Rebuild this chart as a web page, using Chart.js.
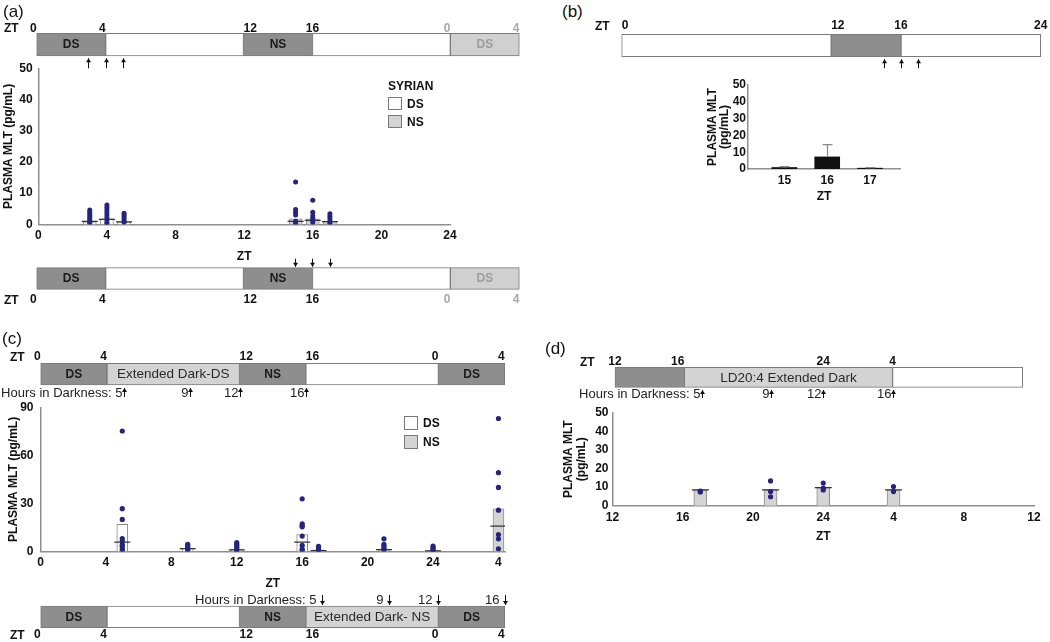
<!DOCTYPE html>
<html>
<head>
<meta charset="utf-8">
<script src="https://cdn.jsdelivr.net/npm/chart.js@4.4.1/dist/chart.umd.min.js"></script>
<style>
body { margin: 0; background: #fff; }
#wrap { position: relative; width: 1050px; height: 642px; overflow: hidden; background: #fff; }
canvas { position: absolute; }
.t { position: absolute; white-space: nowrap; line-height: 1; font-family: "Liberation Sans", Arial, sans-serif; color: #111; }
.box { position: absolute; box-sizing: border-box; border: 1px solid #7a7a7a; }
</style>
</head>
<body>
<div id="wrap"></div>
<script>
// ---------- data ----------
// (a) Syrian hamsters, sampled around DS (ZT3-5) and NS (ZT15-17)
const aXTicks = [0, 4, 8, 12, 16, 20, 24];
const aXTickText = ['0', '4', '8', '12', '16', '20', '24'];
const aYTicks = [0, 10, 20, 30, 40, 50];
const aDsTimes = [3, 4, 5];
const aDsMeans = [0.8, 1.8, 0.8];
const aDsMedians = [1.0, 1.6, 0.8];
const aNsTimes = [15, 16, 17];
const aNsMeans = [1.8, 1.8, 1.0];
const aNsMedians = [1.0, 1.3, 0.9];
const aDotTimes = [3, 4, 5, 15, 16, 17];
const aDotValues = [
  [4.6, 4.0, 3.4, 2.8, 2.2, 1.6, 1.0, 0.4],
  [6.2, 5.4, 4.6, 3.8, 3.0, 2.2, 1.4, 0.6, 0.2],
  [3.6, 3.0, 2.4, 1.8, 1.2, 0.6],
  [13.6, 4.8, 3.9, 3.0, 1.0, 0.4],
  [7.7, 3.9, 2.8, 2.0, 1.3, 0.6],
  [3.4, 2.6, 1.8, 1.0, 0.4]
];

// (b) mean +/- error at ZT15-17
const bXTicks = [15, 16, 17];
const bXTickText = ['15', '16', '17'];
const bYTicks = [0, 10, 20, 30, 40, 50];
const bTimes = [15, 16, 17];
const bMeans = [0.9, 7.2, 0.5];
const bErrTop = [1.4, 14.5, 0.8];

// (c) extended dark, DS and NS groups
const cXTicks = [0, 4, 8, 12, 16, 20, 24, 28];
const cXTickText = ['0', '4', '8', '12', '16', '20', '24', '4'];
const cYTicks = [0, 30, 60, 90];
const cDsTimes = [5, 9, 12, 16];
const cDsMeans = [16.9, 2.0, 1.5, 10.6];
const cDsMedians = [5.8, 1.8, 1.0, 5.8];
const cNsTimes = [17, 21, 24, 28];
const cNsMeans = [1.0, 1.5, 0.5, 26.7];
const cNsMedians = [0.5, 1.2, 0.3, 15.8];
const cDotTimes = [5, 9, 12, 16, 17, 21, 24, 28];
const cDotValues = [
  [75.2, 26.7, 20, 8, 6.5, 4.4, 3.3, 1.7, 0.5],
  [4.5, 3.5, 2.5, 1.5, 0.8],
  [5.5, 4.5, 3.5, 2.5, 1.2, 0.5],
  [32.9, 17.3, 16.2, 15.4, 9.6, 3.8, 1.5, 0.5],
  [3.2, 2.2, 1.2, 0.5],
  [7.9, 4.4, 3.2, 2.0, 1.0],
  [3.3, 2.2, 1.2, 0.5],
  [83, 49.2, 40, 25.8, 10.6, 7.9, 1.7]
];

// (d) LD20:4 extended dark
const dXTicks = [12, 16, 20, 24, 28, 32, 36];
const dXTickText = ['12', '16', '20', '24', '4', '8', '12'];
const dYTicks = [0, 10, 20, 30, 40, 50];
const dNsTimes = [17, 21, 24, 28];
const dNsMeans = [8.5, 8.5, 9.7, 8.5];
const dNsMedians = [8.5, 8.5, 9.7, 8.5];
const dDotTimes = [17, 21, 24, 28];
const dDotValues = [[7.8, 7.4], [13.3, 7.6, 4.8], [12.2, 9.5, 8.5], [10.3, 7.6]];

// light schedule bars
const tlAStarts = [0, 4, 12, 16, 24];
const tlAEnds = [4, 12, 16, 24, 28];
const tlAKinds = ['dark', 'white', 'dark', 'white', 'faded'];
const tlATexts = ['DS', '', 'NS', '', 'DS'];
const tlATicks = [0, 4, 12, 16, 24, 28];
const tlATickText = ['0', '4', '12', '16', '0', '4'];
const aUpArrows = [3, 4, 5];
const aDownArrows = [15, 16, 17];

const tlBStarts = [0, 12, 16];
const tlBEnds = [12, 16, 24];
const tlBKinds = ['white', 'dark', 'white'];
const tlBTicks = [0, 12, 16, 24];
const tlBTickText = ['0', '12', '16', '24'];
const bArrows = [15, 16, 17];

const tlCStarts = [0, 4, 12, 16, 24];
const tlCEnds = [4, 12, 16, 24, 28];
const tlCTopKinds = ['dark', 'light', 'dark', 'white', 'dark'];
const tlCTopTexts = ['DS', 'Extended Dark-DS', 'NS', '', 'DS'];
const tlCBotKinds = ['dark', 'white', 'dark', 'light', 'dark'];
const tlCBotTexts = ['DS', '', 'NS', 'Extended Dark- NS', 'DS'];
const tlCTicks = [0, 4, 12, 16, 24, 28];
const tlCTickText = ['0', '4', '12', '16', '0', '4'];
const cUpArrows = [5, 9, 12, 16];
const cDownArrows = [17, 21, 24, 28];
const darkHours = ['Hours in Darkness: 5', '9', '12', '16'];

const tlDStarts = [12, 16, 28];
const tlDEnds = [16, 28, 35.5];
const tlDKinds = ['dark', 'light', 'white'];
const tlDTexts = ['', 'LD20:4 Extended Dark', ''];
const tlDTicks = [12, 16, 24, 28];
const tlDTickText = ['12', '16', '24', '4'];
const dArrows = [17, 21, 24, 28];

// ---------- drawing ----------
const FONT = '"Liberation Sans", Arial, sans-serif';
Chart.defaults.font.family = FONT;
Chart.defaults.color = '#111';
const NAVY = '#25257c';
const segStyle = {
  dark:  { fill: '#8e8e8e', text: '#1a1a1a', font: 'bold 12px ' + FONT },
  light: { fill: '#d3d3d3', text: '#2a2a2a', font: '13.5px ' + FONT },
  white: { fill: '#ffffff', text: '#1a1a1a', font: 'bold 12px ' + FONT },
  faded: { fill: '#d0d0d0', text: '#9d9d9d', font: 'bold 12px ' + FONT }
};

const wrap = document.getElementById('wrap');
function makeCanvas(b) {
  const c = document.createElement('canvas');
  c.width = b[2]; c.height = b[3];
  c.style.left = b[0] + 'px'; c.style.top = b[1] + 'px';
  c.style.width = b[2] + 'px'; c.style.height = b[3] + 'px';
  wrap.appendChild(c);
  return c;
}
function addText(txt, x, cy, size, bold, color) {
  const d = document.createElement('div');
  d.className = 't';
  d.textContent = txt;
  d.style.left = x + 'px';
  d.style.top = (cy - size / 2) + 'px';
  d.style.fontSize = size + 'px';
  d.style.fontWeight = bold ? 'bold' : 'normal';
  if (color) d.style.color = color;
  wrap.appendChild(d);
}
function addBox(x, y, w, h, fill) {
  const d = document.createElement('div');
  d.className = 'box';
  Object.assign(d.style, { left: x + 'px', top: y + 'px', width: w + 'px', height: h + 'px', background: fill });
  wrap.appendChild(d);
}

// labels, tick numbers and arrows around a schedule bar
function makeMarks(tl) {
  return {
    id: 'marks',
    afterDatasetsDraw(chart) {
      const ctx = chart.ctx, xs = chart.scales.x, a = chart.chartArea;
      const px = v => xs.getPixelForValue(v);
      ctx.save();
      ctx.textBaseline = 'middle';
      tl.starts.forEach((s, i) => {
        const txt = tl.texts[i];
        if (!txt) return;
        const st = segStyle[tl.kinds[i]];
        ctx.font = st.font; ctx.fillStyle = st.text; ctx.textAlign = 'center';
        ctx.fillText(txt, (px(s) + px(tl.ends[i])) / 2, (a.top + a.bottom) / 2 + 0.5);
      });
      ctx.font = 'bold 12px ' + FONT;
      const ty = tl.tickSide === 'top' ? a.top - tl.tickGap : a.bottom + tl.tickGap;
      tl.ticks.forEach((v, i) => {
        ctx.textAlign = tl.tickAlign[i];
        ctx.fillStyle = tl.tickColors ? tl.tickColors[i] : '#111';
        ctx.fillText(tl.tickText[i], px(v), ty);
      });
      ctx.strokeStyle = '#111'; ctx.lineWidth = 1;
      const below = tl.arrowSide === 'below';
      const y1 = below ? a.bottom + tl.arrowGap : a.top - tl.arrowGap - tl.arrowLen;
      const y2 = y1 + tl.arrowLen;
      tl.arrows.forEach((v, i) => {
        const x = Math.round(px(v)) + 0.5;
        ctx.fillStyle = '#111';
        ctx.beginPath(); ctx.moveTo(x, y1); ctx.lineTo(x, y2); ctx.stroke();
        const hy = below ? y1 : y2, d = below ? 1 : -1;
        ctx.beginPath(); ctx.moveTo(x, hy); ctx.lineTo(x - 2.5, hy + 4 * d); ctx.lineTo(x + 2.5, hy + 4 * d);
        ctx.closePath(); ctx.fill();
        if (tl.arrowText) {
          ctx.font = '13px ' + FONT; ctx.textAlign = 'right'; ctx.fillStyle = '#222';
          ctx.fillText(tl.arrowText[i], x - tl.textGap, (y1 + y2) / 2 + 0.5);
        }
      });
      ctx.restore();
    }
  };
}

function timeline(box, pad, tl) {
  new Chart(makeCanvas(box), {
    type: 'bar',
    data: {
      labels: [''],
      datasets: tl.starts.map((s, i) => ({
        data: [[s, tl.ends[i]]],
        backgroundColor: segStyle[tl.kinds[i]].fill,
        borderColor: '#7b7b7b', borderWidth: 1, borderSkipped: false,
        grouped: false, barPercentage: 1, categoryPercentage: 1, clip: false
      }))
    },
    options: {
      indexAxis: 'y', responsive: false, animation: false, events: [],
      layout: { padding: pad },
      scales: { x: { type: 'linear', min: tl.min, max: tl.max, display: false }, y: { display: false } },
      plugins: { legend: { display: false }, tooltip: { enabled: false } }
    },
    plugins: [makeMarks(tl)]
  });
}

function axesOptions(pad, p) {
  const zero = s => { s.paddingLeft = s.paddingRight = s.paddingTop = s.paddingBottom = 0; };
  return {
    responsive: false, animation: false, events: [],
    layout: { padding: pad },
    plugins: { legend: { display: false }, tooltip: { enabled: false } },
    scales: {
      x: {
        type: 'linear', min: p.xMin, max: p.xMax, offset: false,
        afterBuildTicks: s => { s.ticks = p.xTicks.map(v => ({ value: v })); },
        afterFit: s => { s.height = p.xH; zero(s); },
        grid: { display: false, drawTicks: false },
        border: { color: '#8f8f8f', width: 1.5 },
        ticks: { padding: p.xPad, autoSkip: false, maxRotation: 0, color: '#111',
                 font: { size: 12, weight: 'bold' }, callback: (v, i) => p.xTickText[i] },
        title: { display: true, text: 'ZT', color: '#111', padding: 0, font: { size: 12, weight: 'bold' } }
      },
      y: {
        min: p.yTicks[0], max: p.yTicks[p.yTicks.length - 1],
        afterBuildTicks: s => { s.ticks = p.yTicks.map(v => ({ value: v })); },
        afterFit: s => { s.width = p.yW; zero(s); },
        grid: { display: false, drawTicks: false },
        border: { color: '#8f8f8f', width: 1.5 },
        ticks: { padding: p.yPad, autoSkip: false, color: '#111', font: { size: 12, weight: 'bold' } },
        title: { display: true, text: p.yTitle, color: '#111', padding: 0,
                 font: { size: 12, weight: 'bold', lineHeight: p.yTitleLH } }
      }
    }
  };
}

function dotPanel(box, pad, p) {
  const pts = (times, vals) => times.map((t, i) => ({ x: t, y: vals[i] }));
  const dots = p.dotTimes.flatMap((t, i) => p.dotValues[i].map(v => ({ x: t, y: v })));
  const meds = pts(p.dsTimes, p.dsMedians).concat(pts(p.nsTimes, p.nsMedians));
  const barSet = (data, fill) => ({
    type: 'bar', data, backgroundColor: fill, borderColor: '#8c8c8c', borderWidth: 1,
    barThickness: p.barW, grouped: false, order: 3
  });
  new Chart(makeCanvas(box), {
    type: 'bar',
    data: {
      datasets: [
        { type: 'scatter', data: dots, pointRadius: p.dotR, pointBackgroundColor: NAVY, pointBorderWidth: 0, order: 1 },
        { type: 'scatter', data: meds, pointStyle: 'line', pointRadius: p.medR,
          pointBorderColor: '#333', pointBorderWidth: 1.3, order: 2 },
        barSet(pts(p.dsTimes, p.dsMeans), '#ffffff'),
        barSet(pts(p.nsTimes, p.nsMeans), '#d4d4d4')
      ]
    },
    options: axesOptions(pad, p)
  });
}

// ---- panel (a) ----
const aAlign = ['right', 'right', 'left', 'center', 'right', 'right'];
const aTickColors = ['#111', '#111', '#111', '#111', '#a8a8a8', '#a8a8a8'];
timeline([0, 18, 530, 56], { left: 36.7, right: 10.7, top: 15.3, bottom: 18 }, {
  min: 0, max: 28, starts: tlAStarts, ends: tlAEnds, kinds: tlAKinds, texts: tlATexts,
  ticks: tlATicks, tickText: tlATickText, tickAlign: aAlign, tickColors: aTickColors, tickSide: 'top', tickGap: 5,
  arrows: aUpArrows, arrowSide: 'below', arrowGap: 2.3, arrowLen: 10
});
timeline([0, 250, 530, 60], { left: 36.7, right: 10.7, top: 17.7, bottom: 20.7 }, {
  min: 0, max: 28, starts: tlAStarts, ends: tlAEnds, kinds: tlAKinds, texts: tlATexts,
  ticks: tlATicks, tickText: tlATickText, tickAlign: aAlign, tickColors: aTickColors, tickSide: 'bottom', tickGap: 10.7,
  arrows: aDownArrows, arrowSide: 'above', arrowGap: 1, arrowLen: 8
});
dotPanel([0, 58, 462, 206], { left: 1, right: 12, top: 10.3, bottom: 0 }, {
  xMin: 0, xMax: 24, xTicks: aXTicks, xTickText: aXTickText, yTicks: aYTicks,
  xH: 39.6, yW: 37.3, xPad: 4.2, yPad: 5.6, yTitle: 'PLASMA MLT (pg/mL)', yTitleLH: 1.2,
  dsTimes: aDsTimes, dsMeans: aDsMeans, dsMedians: aDsMedians,
  nsTimes: aNsTimes, nsMeans: aNsMeans, nsMedians: aNsMedians,
  dotTimes: aDotTimes, dotValues: aDotValues, barW: 13, medR: 8, dotR: 2.5
});

// ---- panel (b) ----
timeline([600, 18, 450, 56], { left: 21.7, right: 9.3, top: 16.3, bottom: 17.3 }, {
  min: 0, max: 24, starts: tlBStarts, ends: tlBEnds, kinds: tlBKinds, texts: ['', '', ''],
  ticks: tlBTicks, tickText: tlBTickText, tickAlign: ['left', 'left', 'center', 'center'], tickSide: 'top', tickGap: 8.6,
  arrows: bArrows, arrowSide: 'below', arrowGap: 2.6, arrowLen: 9
});
const errorBars = {
  id: 'errorBars',
  afterDatasetsDraw(chart) {
    const { ctx, scales: { x, y } } = chart;
    ctx.save();
    ctx.strokeStyle = '#8a8a8a'; ctx.lineWidth = 1.2;
    bTimes.forEach((t, i) => {
      const px = Math.round(x.getPixelForValue(t)) + 0.5;
      const y0 = y.getPixelForValue(bMeans[i]), y1 = y.getPixelForValue(bErrTop[i]);
      ctx.beginPath();
      ctx.moveTo(px, y0); ctx.lineTo(px, y1);
      ctx.moveTo(px - 5, y1); ctx.lineTo(px + 5, y1);
      ctx.stroke();
    });
    ctx.restore();
  }
};
new Chart(makeCanvas([700, 75, 210, 129]), {
  type: 'bar',
  data: { datasets: [{ data: bTimes.map((t, i) => ({ x: t, y: bMeans[i] })), backgroundColor: '#111', barThickness: 25 }] },
  options: axesOptions({ left: 7, right: 10, top: 10, bottom: 0 }, {
    xMin: 14.15, xMax: 17.7, xTicks: bXTicks, xTickText: bXTickText, yTicks: bYTicks,
    xH: 35, yW: 41, xPad: 4, yPad: 2, yTitle: ['PLASMA MLT', '(pg/mL)'], yTitleLH: 1.0
  }),
  plugins: [errorBars]
});

// ---- panel (c) ----
const cAlign = ['right', 'right', 'left', 'left', 'right', 'right'];
timeline([0, 348, 515, 52], { left: 40.7, right: 10.3, top: 15.3, bottom: 15 }, {
  min: 0, max: 28, starts: tlCStarts, ends: tlCEnds, kinds: tlCTopKinds, texts: tlCTopTexts,
  ticks: tlCTicks, tickText: tlCTickText, tickAlign: cAlign, tickSide: 'top', tickGap: 6.6,
  arrows: cUpArrows, arrowSide: 'below', arrowGap: 3, arrowLen: 9, arrowText: darkHours, textGap: 2
});
timeline([0, 590, 515, 52], { left: 40.7, right: 10.3, top: 16, bottom: 14.3 }, {
  min: 0, max: 28, starts: tlCStarts, ends: tlCEnds, kinds: tlCBotKinds, texts: tlCBotTexts,
  ticks: tlCTicks, tickText: tlCTickText, tickAlign: cAlign, tickSide: 'bottom', tickGap: 7.3,
  arrows: cDownArrows, arrowSide: 'above', arrowGap: 1, arrowLen: 10, arrowText: darkHours, textGap: 6
});
dotPanel([0, 397, 515, 194], { left: 6.3, right: 10, top: 10.3, bottom: 0 }, {
  xMin: 0, xMax: 28.4, xTicks: cXTicks, xTickText: cXTickText, yTicks: cYTicks,
  xH: 39.5, yW: 34.2, xPad: 3.5, yPad: 7, yTitle: 'PLASMA MLT (pg/mL)', yTitleLH: 1.2,
  dsTimes: cDsTimes, dsMeans: cDsMeans, dsMedians: cDsMedians,
  nsTimes: cNsTimes, nsMeans: cNsMeans, nsMedians: cNsMedians,
  dotTimes: cDotTimes, dotValues: cDotValues, barW: 11, medR: 8, dotR: 2.6
});

// ---- panel (d) ----
timeline([560, 350, 480, 52], { left: 55, right: 17.3, top: 17.3, bottom: 14.7 }, {
  min: 12, max: 35.5, starts: tlDStarts, ends: tlDEnds, kinds: tlDKinds, texts: tlDTexts,
  ticks: tlDTicks, tickText: tlDTickText, tickAlign: ['center', 'right', 'center', 'center'], tickSide: 'top', tickGap: 5.6,
  arrows: dArrows, arrowSide: 'below', arrowGap: 2.7, arrowLen: 8, arrowText: darkHours, textGap: 2
});
dotPanel([555, 402, 490, 142], { left: 7.7, right: 11, top: 10.7, bottom: 0 }, {
  xMin: 12, xMax: 36, xTicks: dXTicks, xTickText: dXTickText, yTicks: dYTicks,
  xH: 38.3, yW: 49.8, xPad: 4.4, yPad: 4, yTitle: ['PLASMA MLT', '(pg/mL)'], yTitleLH: 1.05,
  dsTimes: [], dsMeans: [], dsMedians: [],
  nsTimes: dNsTimes, nsMeans: dNsMeans, nsMedians: dNsMedians,
  dotTimes: dDotTimes, dotValues: dDotValues, barW: 13, medR: 8.5, dotR: 2.6
});

// ---- plain text: panel letters, ZT captions, legends ----
addText('(a)', 3, 11, 17, false);
addText('(b)', 562, 11, 17, false);
addText('(c)', 2, 338, 17, false);
addText('(d)', 545, 348, 17, false);
addText('ZT', 4, 28.3, 12, true);
addText('ZT', 4, 300, 12, true);
addText('ZT', 595, 25.7, 12, true);
addText('ZT', 10, 356.7, 12, true);
addText('ZT', 10, 635, 12, true);
addText('ZT', 580, 361.7, 12, true);

addText('SYRIAN', 388, 85.5, 12, true);
addBox(388, 97, 14, 13, '#ffffff');
addBox(388, 115, 14, 13, '#d4d4d4');
addText('DS', 407, 103.5, 12, true);
addText('NS', 407, 121.5, 12, true);

addBox(403.5, 416, 14, 14, '#ffffff');
addBox(403.5, 434.5, 14, 14, '#d4d4d4');
addText('DS', 423, 423, 12, true);
addText('NS', 423, 441.5, 12, true);
</script>
</body>
</html>
